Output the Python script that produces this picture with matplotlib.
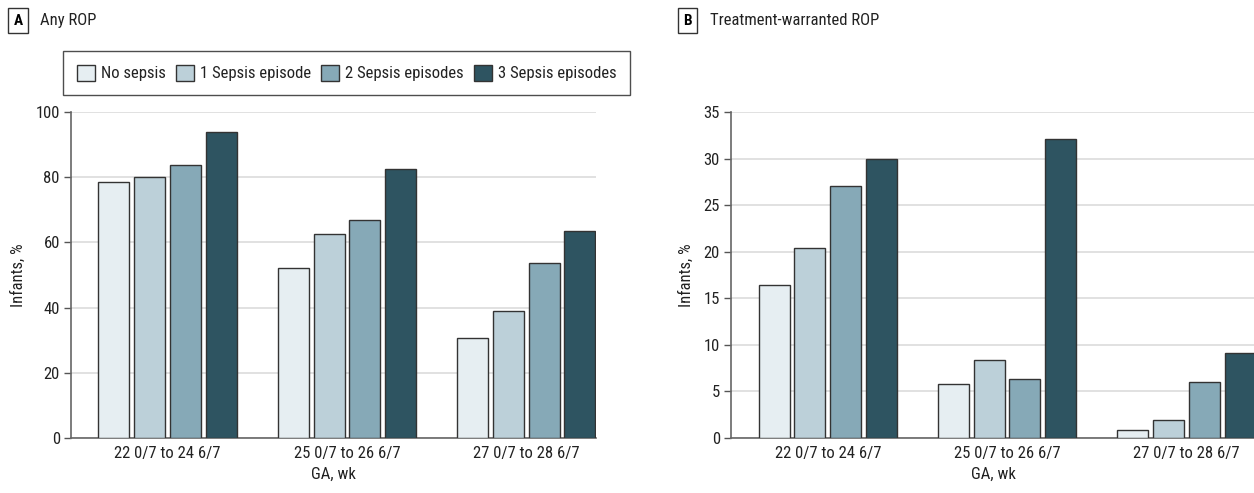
import numpy as np
import matplotlib.pyplot as plt
from matplotlib.patches import Patch
from matplotlib import font_manager

names = {f.name for f in font_manager.fontManager.ttflist}
fam = [n for n in ['Roboto Condensed', 'Liberation Sans Narrow', 'Roboto'] if n in names]
plt.rcParams['font.family'] = fam + ['DejaVu Sans']

ga_groups = ['22 0/7 to 24 6/7', '25 0/7 to 26 6/7', '27 0/7 to 28 6/7']
series_names = ['No sepsis', '1 Sepsis episode', '2 Sepsis episodes', '3 Sepsis episodes']
colors = ['#e6eef2', '#bcd0d9', '#86a9b7', '#2e5461']

# panel A: any ROP, % of infants
any_rop = [
    [78.6, 52.0, 30.7],
    [80.2, 62.7, 38.9],
    [83.8, 66.9, 53.8],
    [94.0, 82.5, 63.4],
]
# panel B: treatment-warranted ROP, % of infants
treat_rop = [
    [16.4, 5.8, 0.9],
    [20.4, 8.4, 1.9],
    [27.1, 6.3, 6.0],
    [30.0, 32.1, 9.1],
]

fig = plt.figure(figsize=(12.54, 4.93), dpi=100)
ax_a = fig.add_axes([0.0566, 0.1116, 0.4187, 0.6612])
ax_b = fig.add_axes([0.5830, 0.1116, 0.4187, 0.6612])

x = np.arange(len(ga_groups))
offsets = [-0.3, -0.1, 0.1, 0.3]
width = 0.173
fs = 12


def draw_panel(ax, data, ymax, step):
    for vals, off, col in zip(data, offsets, colors):
        ax.bar(x + off, vals, width, color=col, edgecolor='#333333', linewidth=1.0, zorder=3)
    ax.set_xlim(-0.54, 2.39)
    ax.set_ylim(0, ymax)
    ax.set_yticks(np.arange(0, ymax + 0.1, step))
    ax.yaxis.grid(True, color='#dcdcdc', linewidth=1.2, zorder=0)
    ax.set_xticks(x)
    ax.set_xticklabels(ga_groups, fontsize=fs, color='#222222')
    ax.tick_params(axis='x', length=0, pad=6)
    ax.tick_params(axis='y', length=5, width=1, color='#555555', labelsize=fs, labelcolor='#222222', pad=3)
    for s in ['top', 'right']:
        ax.spines[s].set_visible(False)
    for s in ['left', 'bottom']:
        ax.spines[s].set_color('#666666')
        ax.spines[s].set_linewidth(1.2)
    ax.set_xlabel('GA, wk', fontsize=fs, color='#222222', labelpad=4)
    ax.set_ylabel('Infants, %', fontsize=fs, color='#222222', labelpad=7)


draw_panel(ax_a, any_rop, 100, 20)
draw_panel(ax_b, treat_rop, 35, 5)

# panel labels
box = dict(boxstyle='square,pad=0.35', facecolor='white', edgecolor='#333333', linewidth=1)
fig.text(0.0145, 0.958, 'A', fontsize=11, fontweight='bold', ha='center', va='center', bbox=box)
fig.text(0.032, 0.958, 'Any ROP', fontsize=fs, ha='left', va='center', color='#222222')
fig.text(0.5485, 0.958, 'B', fontsize=11, fontweight='bold', ha='center', va='center', bbox=box)
fig.text(0.566, 0.958, 'Treatment-warranted ROP', fontsize=fs, ha='left', va='center', color='#222222')

handles = [Patch(facecolor=c, edgecolor='#333333', linewidth=1) for c in colors]
leg = fig.legend(handles, series_names, loc='center', bbox_to_anchor=(0.2765, 0.852), ncol=4,
                 fontsize=fs, frameon=True, fancybox=False, edgecolor='#222222',
                 handlelength=1.1, handleheight=1.1, handletextpad=0.35, columnspacing=0.6,
                 borderpad=0.8, labelcolor='#222222')
leg.get_frame().set_linewidth(1.0)

fig.savefig('out.png', dpi=100)
